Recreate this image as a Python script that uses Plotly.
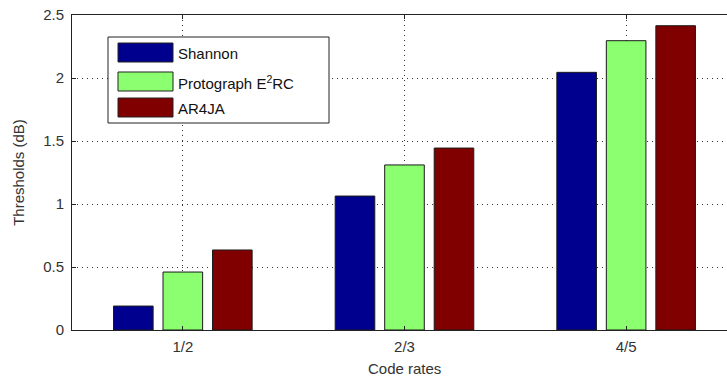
import plotly.graph_objects as go

# Code rates and decoding thresholds (dB)
rates = ["1/2", "2/3", "4/5"]
shannon = [0.19, 1.063, 2.045]
protograph = [0.46, 1.31, 2.296]
ar4ja = [0.635, 1.444, 2.415]

series_names = ["Shannon", "Protograph E<sup>2</sup>RC", "AR4JA"]
series_values = [shannon, protograph, ar4ja]
series_colors = ["#00008F", "#8CFF70", "#800000"]

y_ticks = [0, 0.5, 1, 1.5, 2, 2.5]
y_ticktext = ["0", "0.5", "1", "1.5", "2", "2.5"]

xpos = list(range(1, len(rates) + 1))

fig = go.Figure()
for name, vals, col in zip(series_names, series_values, series_colors):
    fig.add_trace(go.Bar(
        x=xpos, y=vals, name=name,
        marker=dict(color=col, line=dict(color="#1a1a1a", width=1)),
        showlegend=False,
    ))

axis_font = dict(family="Arial, Liberation Sans, sans-serif", size=15, color="#333333")

fig.update_layout(
    width=727, height=381,
    margin=dict(l=72, r=0, t=15, b=51),
    paper_bgcolor="white", plot_bgcolor="white",
    barmode="group", bargap=0.33, bargroupgap=0.2,
    font=axis_font,
    xaxis=dict(
        range=[0.5, 3.455], tickvals=xpos, ticktext=rates,
        showgrid=True, gridcolor="#333", griddash="1px,4px", gridwidth=1,
        showline=True, linecolor="#222", linewidth=1, mirror="ticks",
        ticks="inside", ticklen=4, tickcolor="#222",
        zeroline=False, tickfont=axis_font, ticklabelstandoff=3,
    ),
    yaxis=dict(
        range=[0, 2.5], tickvals=y_ticks, ticktext=y_ticktext,
        showgrid=True, gridcolor="#333", griddash="1px,4px", gridwidth=1,
        showline=True, linecolor="#222", linewidth=1,
        ticks="inside", ticklen=4, tickcolor="#222",
        zeroline=False, tickfont=axis_font, ticklabelstandoff=4,
        title=dict(text="Thresholds (dB)", font=axis_font, standoff=14),
    ),
)

# x-axis title centred on the category span
fig.add_annotation(x=2, y=0, xref="x", yref="paper", yshift=-38,
                   text="Code rates", showarrow=False, font=axis_font,
                   yanchor="middle")

# Legend box with wide colour swatches
def px_x(p):
    return (p - 72) / (727 - 72)

def px_y(p):
    return 1 - (p - 15) / (330 - 15)

fig.add_shape(type="rect", xref="paper", yref="paper",
              x0=px_x(108), x1=px_x(329), y0=px_y(123), y1=px_y(37),
              line=dict(color="#222", width=1), fillcolor="white", layer="above")
swatch_tops = [43, 72, 98]
for top, name, col in zip(swatch_tops, series_names, series_colors):
    fig.add_shape(type="rect", xref="paper", yref="paper",
                  x0=px_x(118), x1=px_x(173), y0=px_y(top + 19), y1=px_y(top),
                  line=dict(color="#222", width=1), fillcolor=col, layer="above")
    fig.add_annotation(x=px_x(176), y=px_y(top + 10), xref="paper", yref="paper",
                       text=name, showarrow=False, xanchor="left", yanchor="middle",
                       font=dict(family="Arial, Liberation Sans, sans-serif", size=15, color="#111"))

fig.write_html("out.html")
